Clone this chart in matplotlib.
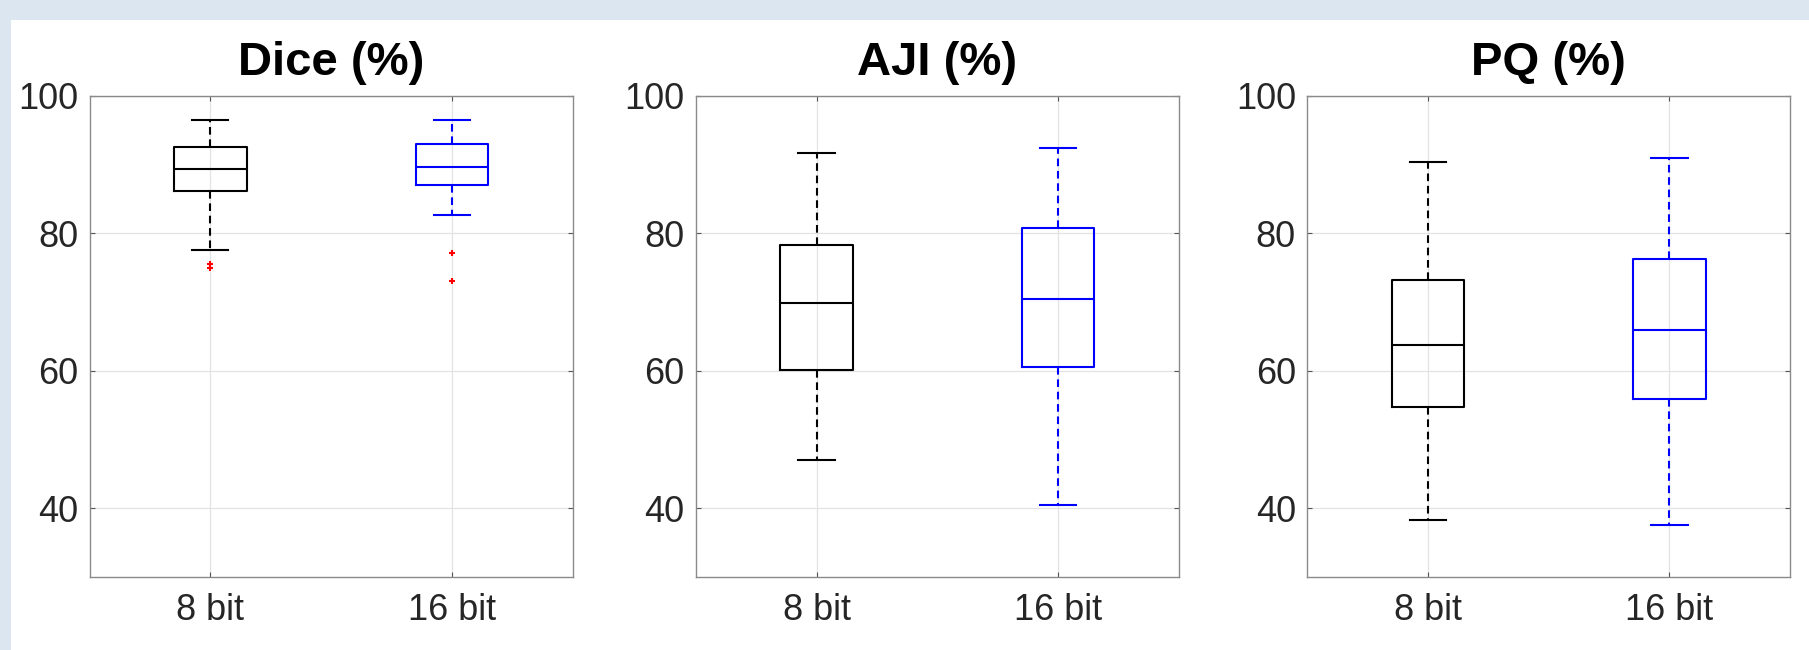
import matplotlib
matplotlib.use("Agg")
import matplotlib.pyplot as plt
from matplotlib.patches import Rectangle

plt.rcParams['font.family'] = ['Liberation Sans', 'DejaVu Sans']

# Box statistics per metric: [8 bit, 16 bit]
groups = ["8 bit", "16 bit"]
titles = ["Dice (%)", "AJI (%)", "PQ (%)"]

dice_whishi = [96.4, 96.4]
dice_q3 = [92.55, 92.9]
dice_med = [89.37, 89.67]
dice_q1 = [86.1, 86.97]
dice_whislo = [77.5, 82.58]
dice_fliers = [[75.5, 75.0], [77.06, 73.1]]

aji_whishi = [91.65, 92.37]
aji_q3 = [78.26, 80.78]
aji_med = [69.91, 70.45]
aji_q1 = [60.06, 60.54]
aji_whislo = [46.97, 40.54]
aji_fliers = [[], []]

pq_whishi = [90.33, 90.99]
pq_q3 = [73.21, 76.28]
pq_med = [63.78, 65.89]
pq_q1 = [54.71, 55.86]
pq_whislo = [38.32, 37.66]
pq_fliers = [[], []]

yticks = [40, 60, 80, 100]
colors = ["#000000", "#0000ff"]

metrics = [
    (dice_whislo, dice_q1, dice_med, dice_q3, dice_whishi, dice_fliers),
    (aji_whislo, aji_q1, aji_med, aji_q3, aji_whishi, aji_fliers),
    (pq_whislo, pq_q1, pq_med, pq_q3, pq_whishi, pq_fliers),
]

W, H = 1809, 650
fig = plt.figure(figsize=(W / 100, H / 100), dpi=100)
fig.patch.set_facecolor("white")
# light blue frame along the top and left edges
band = "#dce6f1"
fig.patches.append(Rectangle((0, 1 - 20 / H), 1, 20 / H,
                             transform=fig.transFigure, facecolor=band,
                             edgecolor="none", zorder=-10))
fig.patches.append(Rectangle((0, 0), 11 / W, 1,
                             transform=fig.transFigure, facecolor=band,
                             edgecolor="none", zorder=-10))

lefts = [89.5, 695.7, 1307.0]
ax_w = 483.2
bottom = 1 - 577.3 / H
top = 1 - 95.5 / H

lw = 1.5
dash = (0, (5.5 / lw, 3.4 / lw))

for i, (lo, q1, med, q3, hi, fl) in enumerate(metrics):
    ax = fig.add_axes([lefts[i] / W, bottom, ax_w / W, top - bottom])
    ax.set_facecolor("white")
    for j in range(2):
        stats = [dict(med=med[j], q1=q1[j], q3=q3[j], whislo=lo[j],
                      whishi=hi[j], fliers=fl[j])]
        c = colors[j]
        ax.bxp(stats, positions=[j + 1], widths=0.3, capwidths=0.15,
               boxprops=dict(color=c, linewidth=lw),
               medianprops=dict(color=c, linewidth=lw),
               whiskerprops=dict(color=c, linewidth=lw, linestyle=dash),
               capprops=dict(color=c, linewidth=lw),
               flierprops=dict(marker="+", markeredgecolor="red",
                               markersize=5, markeredgewidth=1.5,
                               linestyle="none"),
               manage_ticks=False)
    ax.set_xlim(0.5, 2.5)
    ax.set_ylim(30, 100)
    ax.set_xticks([1, 2])
    ax.set_xticklabels(groups)
    ax.set_yticks(yticks)
    ax.grid(True, color="#e3e3e3", linewidth=0.9)
    ax.set_axisbelow(True)
    for s in ax.spines.values():
        s.set_color("#8a8a8a")
        s.set_linewidth(1.0)
    ax.tick_params(axis="both", direction="in", length=3.5, width=0.8,
                   color="#555555", labelsize=26, labelcolor="#262626",
                   top=True, right=True)
    ax.tick_params(axis="x", pad=11)
    ax.tick_params(axis="y", pad=8)
    ax.set_title(titles[i], fontsize=34, fontweight="bold", pad=14.5)

fig.savefig("out.png", dpi=100, facecolor=fig.get_facecolor())
